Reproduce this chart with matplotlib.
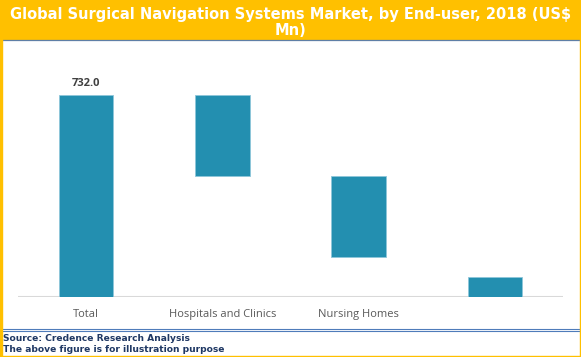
import matplotlib
matplotlib.use("Agg")
import matplotlib.pyplot as plt
from matplotlib.patches import Rectangle
from matplotlib.lines import Line2D

# data (waterfall: each bar runs from bottom to top)
categories = ["Total", "Hospitals and Clinics", "Nursing Homes", ""]
bar_bottoms = [0, 438, 145, 0]
bar_tops = [732.0, 732.0, 438, 72]
total_label = "732.0"

title = "Global Surgical Navigation Systems Market, by End-user, 2018 (US$\nMn)"
source_lines = ["Source: Credence Research Analysis",
                "The above figure is for illustration purpose"]

W, H = 581, 357
orange = "#FFC000"
bar_color = "#238FB0"


def fx(px):
    return px / W


def fy(py):
    return 1 - py / H


fig = plt.figure(figsize=(W / 100, H / 100), dpi=100)
fig.patch.set_facecolor("white")

# title band and frame
fig.patches.append(Rectangle((0, fy(39)), 1, 39 / H, transform=fig.transFigure,
                             color=orange, zorder=0))
fig.lines.append(Line2D([fx(1), fx(580)], [fy(39.5), fy(39.5)],
                        transform=fig.transFigure, color="#5f7fa6", lw=0.9))
for x0 in [0, W - 1.5]:
    fig.patches.append(Rectangle((fx(x0), 0), 1.5 / W, 1, transform=fig.transFigure,
                                 color=orange, zorder=5))
fig.patches.append(Rectangle((0, 0), 1, 1.5 / H, transform=fig.transFigure,
                             color=orange, zorder=5))

fig.text(0.5, fy(22.5), title, ha="center", va="center", color="white",
         fontsize=10.5, fontweight="bold", family="DejaVu Sans", linespacing=1.1)

# chart area
ax = fig.add_axes([fx(18), fy(297), fx(563) - fx(18), fy(45) - fy(297)])
x = list(range(len(categories)))
heights = [t - b for t, b in zip(bar_tops, bar_bottoms)]
ax.bar(x, heights, bottom=bar_bottoms, width=0.4, color=bar_color,
       edgecolor="#8ec6da", linewidth=0.6, zorder=2)
ax.axhline(0, color="#d9d9d9", lw=1.5, zorder=1)
ax.set_xlim(-0.5, len(categories) - 0.5)
ax.set_ylim(0, 732 * 252 / 202)
ax.set_xticks(x)
ax.set_xticklabels(categories, color="#595959", fontsize=8, family="Open Sans")
ax.tick_params(axis="x", length=0, pad=8.5)
ax.set_yticks([])
for s in ax.spines.values():
    s.set_visible(False)

ax.annotate(total_label, (0, bar_tops[0]), xytext=(0, 4), textcoords="offset points",
            ha="center", va="bottom", fontsize=8, fontweight="bold", color="#404040",
            family="Open Sans")

# footer
for yy in (329, 331):
    fig.lines.append(Line2D([fx(1), fx(580)], [fy(yy), fy(yy)],
                            transform=fig.transFigure, color="#4f7cba", lw=0.8))
for i, line in enumerate(source_lines):
    fig.text(fx(3), fy(338.5 + 11.5 * i), line, ha="left", va="center",
             color="#1f3864", fontsize=6.6, fontweight="bold", family="DejaVu Sans")

fig.savefig("out.png", dpi=100)
